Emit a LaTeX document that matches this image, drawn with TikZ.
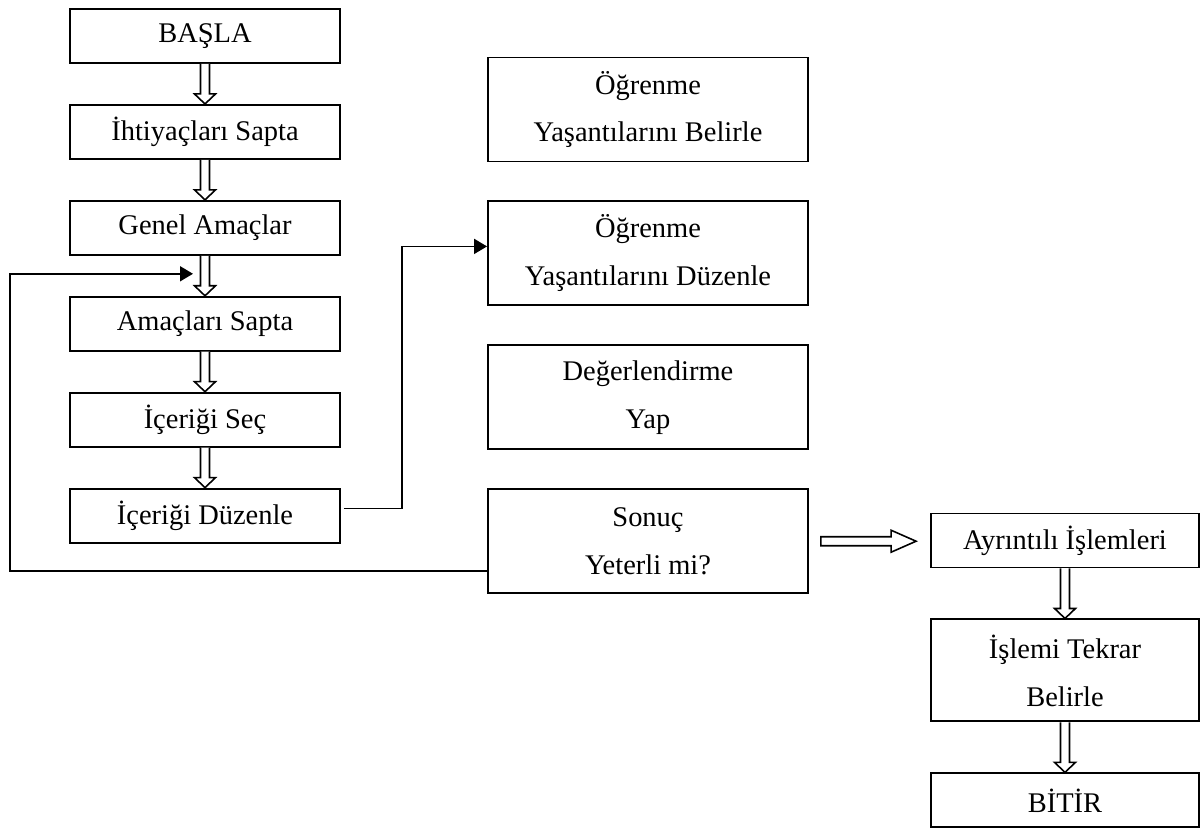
\documentclass[tikz,border=0pt]{standalone}
\usepackage{fontspec}
\setmainfont{Liberation Serif}
\usetikzlibrary{arrows.meta, positioning, calc}

% hollow block arrows between boxes
\newcommand{\hdown}[2]{%
  \draw[BA] ($(#1.south)+(-4.5,0)$) -- ($(#1.south |- #2.north)+(-4.5,-10)$) -- ++(-6,0)
    -- (#1.south |- #2.north) -- ++(10.5,-10) -- ++(-6,0) -- ($(#1.south)+(4.5,0)$);}
\newcommand{\hright}[2]{%
  \draw[BA] ($(#1.east)+(12,-4.5)$) -- ($(#1.east -| #2.west)+(-39,-4.5)$) -- ++(0,-6.5)
    -- ($(#1.east -| #2.west)+(-14,0)$) -- ++(-25,11) -- ++(0,-6.5) -- ($(#1.east)+(12,4.5)$) -- cycle;}

\begin{document}
\begin{tikzpicture}[x=0.02cm, y=-0.02cm,
  BX/.style={draw, line width=1.1pt, minimum width=5.4cm, minimum height=1.08cm,
             align=center, font=\fontsize{16.2}{27.3}\selectfont, inner sep=2pt},
  RB/.style={BX, minimum width=6.4cm, minimum height=2.08cm},
  SB/.style={BX, minimum width=5.36cm},
  BA/.style={draw, line width=0.9pt, fill=white},
  AR/.style={-{Triangle[length=0.26cm,width=0.3cm]}, line width=1pt},
  node distance=0.8cm
]
  \useasboundingbox (0,0) rectangle (1201,839);

  \node[BX]                (basla)   at (205,36) {BAŞLA};
  \node[BX,below=of basla]   (ihtiyac) {İhtiyaçları Sapta};
  \node[BX,below=of ihtiyac] (genel)   {Genel Amaçlar};
  \node[BX,below=of genel]   (amac)    {Amaçları Sapta};
  \node[BX,below=of amac]    (icsec)   {İçeriği Seç};
  \node[BX,below=of icsec]   (icduz)   {İçeriği Düzenle};

  \node[RB]                      (ogrbel) at (648,109.5) {Öğrenme\\Yaşantılarını Belirle};
  \node[RB,below=0.76cm of ogrbel] (ogrduz) {Öğrenme\\Yaşantılarını Düzenle};
  \node[RB,below=0.76cm of ogrduz] (deger)  {Değerlendirme\\Yap};
  \node[RB,below=0.76cm of deger]  (sonuc)  {Sonuç\\Yeterli mi?};

  \node[SB]                        (ayrint) at (1065,540.5) {Ayrıntılı İşlemleri};
  \node[SB,below=1.0cm of ayrint,minimum height=2.04cm] (tekrar) {İşlemi Tekrar\\Belirle};
  \node[SB,below=1.0cm of tekrar] (bitir)  {BİTİR};

  \foreach \a/\b in {basla/ihtiyac,ihtiyac/genel,genel/amac,amac/icsec,icsec/icduz,
                     ayrint/tekrar,tekrar/bitir} \hdown{\a}{\b};
  \hright{sonuc}{ayrint};

  \coordinate (fbin) at ($(genel.south)!0.5!(amac.north)+(-12,-2)$);
  \draw[AR] ($(sonuc.west)+(0,30)$) -- ++(-477,0) |- (fbin);
  \draw[AR] ($(icduz.east)+(3,-7)$) -- ++(58,0) |- ($(ogrduz.west)+(0,-7)$);
\end{tikzpicture}
\end{document}
